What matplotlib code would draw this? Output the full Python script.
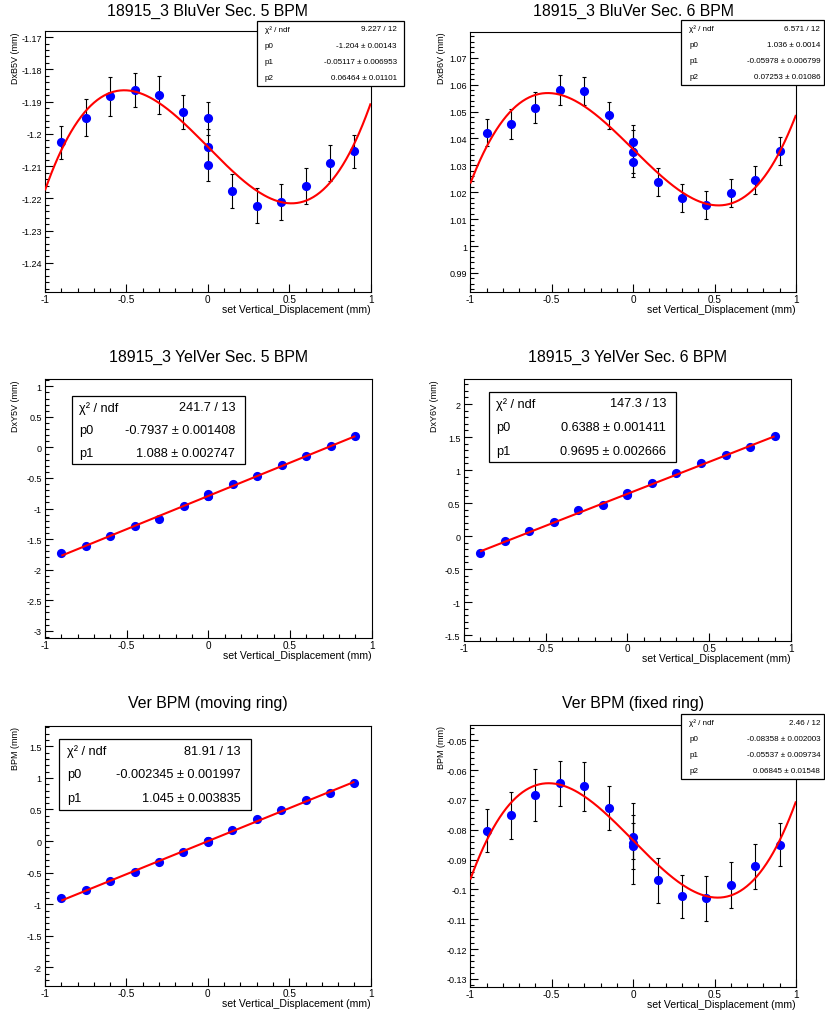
import numpy as np
import matplotlib
matplotlib.use("Agg")
import matplotlib.pyplot as plt
from matplotlib.ticker import MultipleLocator, FuncFormatter
from matplotlib.patches import Rectangle

plt.rcParams['font.family'] = ['Liberation Sans', 'DejaVu Sans']

W, H = 825, 1012

# set vertical displacement (mm); three repeated measurements at zero
x_disp = [-0.9, -0.75, -0.6, -0.45, -0.3, -0.15, 0.0, 0.0, 0.0,
          0.15, 0.3, 0.45, 0.6, 0.75, 0.9]

# Blue ring, sector 5 BPM
b5_y = [-1.2026, -1.1950, -1.1883, -1.1863, -1.1880, -1.1931, -1.1951, -1.2041, -1.2096,
        -1.2176, -1.2222, -1.2212, -1.2162, -1.2090, -1.2054]
b5_err = [0.0051, 0.0058, 0.0060, 0.0053, 0.0059, 0.0053, 0.0051, 0.0055, 0.0051,
          0.0053, 0.0053, 0.0056, 0.0056, 0.0056, 0.0051]
b5_par = [-1.204, -0.05117, 0.06464]
b5_parerr = [0.00143, 0.006953, 0.01101]
b5_chi2 = [9.227, 12]

# Blue ring, sector 6 BPM
b6_y = [1.0421, 1.0454, 1.0515, 1.0580, 1.0576, 1.0486, 1.0386, 1.0351, 1.0311,
        1.0238, 1.0179, 1.0151, 1.0196, 1.0245, 1.0354]
b6_err = [0.0050, 0.0056, 0.0058, 0.0056, 0.0053, 0.0051, 0.0064, 0.0080, 0.0055,
          0.0051, 0.0051, 0.0052, 0.0052, 0.0052, 0.0052]
b6_par = [1.036, -0.05978, 0.07253]
b6_parerr = [0.0014, 0.006799, 0.01086]
b6_chi2 = [6.571, 12]

# Yellow ring, sector 5 BPM
y5_y = [-1.7285, -1.608, -1.450, -1.292, -1.166, -0.959, -0.757, -0.790, -0.801,
        -0.604, -0.4625, -0.288, -0.135, 0.023, 0.181]
y5_err = [0.0054] * 15
y5_par = [-0.7937, 1.088]
y5_parerr = [0.001408, 0.002747]
y5_chi2 = [241.7, 13]

# Yellow ring, sector 6 BPM
y6_y = [-0.263, -0.081, 0.071, 0.217, 0.389, 0.475, 0.652, 0.635, 0.621,
        0.798, 0.960, 1.106, 1.232, 1.348, 1.510]
y6_err = [0.0054] * 15
y6_par = [0.6388, 0.9695]
y6_parerr = [0.001411, 0.002666]
y6_chi2 = [147.3, 13]

# Moving ring BPM
mov_y = [-0.908, -0.770, -0.638, -0.485, -0.327, -0.174, 0.006, -0.004, -0.010,
         0.170, 0.344, 0.497, 0.650, 0.766, 0.919]
mov_err = [0.0077] * 15
mov_par = [-0.002345, 1.045]
mov_parerr = [0.001997, 0.003835]
mov_chi2 = [81.91, 13]

# Fixed ring BPM
fix_y = [-0.0803, -0.0751, -0.0683, -0.0644, -0.0655, -0.0727, -0.0823, -0.0845, -0.0853,
         -0.0970, -0.1023, -0.1030, -0.0985, -0.0923, -0.0851]
fix_err = [0.0072, 0.0079, 0.0088, 0.0075, 0.0081, 0.0074, 0.0074, 0.0136, 0.0077,
           0.0075, 0.0072, 0.0076, 0.0077, 0.0075, 0.0072]
fix_par = [-0.08358, -0.05537, 0.06845]
fix_parerr = [0.002003, 0.009734, 0.01548]
fix_chi2 = [2.46, 12]

x_label = "set Vertical_Displacement (mm)"

panels = [
    dict(title="18915_3 BluVer Sec. 5 BPM", ylabel="DxB5V (mm)", y=b5_y, err=b5_err,
         par=b5_par, parerr=b5_parerr, chi2=b5_chi2,
         frame=(45, 32, 370.7, 293.3), ylim=(-1.2491, -1.1681), major=0.01, minor=0.002,
         box=(256.7, 21.7, 404, 86.7), boxfs=5.8, pad_l=8, pad_r=7, title_y=11),
    dict(title="18915_3 BluVer Sec. 6 BPM", ylabel="DxB6V (mm)", y=b6_y, err=b6_err,
         par=b6_par, parerr=b6_parerr, chi2=b6_chi2,
         frame=(470.3, 32.7, 796, 293.3), ylim=(0.9828, 1.0797), major=0.01, minor=0.002,
         box=(681.3, 21, 824.3, 86), boxfs=5.8, pad_l=8, pad_r=4, title_y=11),
    dict(title="18915_3 YelVer Sec. 5 BPM", ylabel="DxY5V (mm)", y=y5_y, err=y5_err,
         par=y5_par, parerr=y5_parerr, chi2=y5_chi2,
         frame=(45, 380, 371.7, 639.3), ylim=(-3.124, 1.12), major=0.5, minor=0.1,
         box=(71.7, 396.7, 245.3, 465.3), boxfs=9.2, pad_l=7.6, pad_r=10, title_y=357.3),
    dict(title="18915_3 YelVer Sec. 6 BPM", ylabel="DxY6V (mm)", y=y6_y, err=y6_err,
         par=y6_par, parerr=y6_parerr, chi2=y6_chi2,
         frame=(463.7, 380, 791, 641.7), ylim=(-1.586, 2.379), major=0.5, minor=0.1,
         box=(488.7, 392.7, 676, 463.3), boxfs=9.2, pad_l=7.6, pad_r=10, title_y=357.3),
    dict(title="Ver BPM (moving ring)", ylabel="BPM (mm)", y=mov_y, err=mov_err,
         par=mov_par, parerr=mov_parerr, chi2=mov_chi2,
         frame=(45, 726.7, 370.7, 986.7), ylim=(-2.29, 1.826), major=0.5, minor=0.1,
         box=(59.3, 740, 250.7, 810.7), boxfs=9.2, pad_l=7.6, pad_r=10, title_y=703.3),
    dict(title="Ver BPM (fixed ring)", ylabel="BPM (mm)", y=fix_y, err=fix_err,
         par=fix_par, parerr=fix_parerr, chi2=fix_chi2,
         frame=(470.3, 726, 796, 988.3), ylim=(-0.1328, -0.0449), major=0.01, minor=0.002,
         box=(681.3, 715, 824.3, 780), boxfs=5.8, pad_l=8, pad_r=4, title_y=703.3),
]


def fx(px):
    return px / W


def fy(py):
    return 1.0 - py / H


def num_label(v, pos=None):
    v = round(v, 6)
    if abs(v) < 1e-12:
        return "0"
    return f"{v:g}"


fig = plt.figure(figsize=(W / 100, H / 100), dpi=100)
fig.patch.set_facecolor("white")

for p in panels:
    x0, y0, x1, y1 = p["frame"]
    ax = fig.add_axes([fx(x0), fy(y1), (x1 - x0) / W, (y1 - y0) / H])
    ax.set_xlim(-1, 1)
    ax.set_ylim(*p["ylim"])

    xs = np.array(x_disp)
    ys = np.array(p["y"])
    ax.errorbar(xs, ys, yerr=p["err"], fmt="none", ecolor="black", elinewidth=0.8,
                capsize=1.6, capthick=0.8, zorder=2)
    ax.plot(xs, ys, "o", color="#0000ff", markersize=6.6, markeredgewidth=0, zorder=3)

    par = p["par"]
    if len(par) == 3:
        xf = np.linspace(-1, 1, 200)
        yf = par[0] + par[1] * xf + par[2] * xf ** 3
    else:
        xf = np.linspace(min(x_disp), max(x_disp), 100)
        yf = par[0] + par[1] * xf
    ax.plot(xf, yf, color="#ff0000", lw=1.5, zorder=4, solid_capstyle="butt")

    ax.xaxis.set_major_locator(MultipleLocator(0.5))
    ax.xaxis.set_minor_locator(MultipleLocator(0.1))
    ax.yaxis.set_major_locator(MultipleLocator(p["major"]))
    ax.yaxis.set_minor_locator(MultipleLocator(p["minor"]))
    ax.xaxis.set_major_formatter(FuncFormatter(num_label))
    ax.yaxis.set_major_formatter(FuncFormatter(num_label))
    ax.tick_params(which="both", direction="in", top=False, right=False,
                   width=0.8, colors="black")
    ax.tick_params(which="major", length=6.0)
    ax.tick_params(which="minor", length=3.0)
    ax.tick_params(axis="y", which="major", labelsize=6.5, pad=2.4)
    ax.tick_params(axis="x", which="major", labelsize=7.2, pad=1.4)
    for s in ax.spines.values():
        s.set_linewidth(0.8)
        s.set_color("black")

    # title, axis titles
    fig.text(fx((x0 + x1) / 2), fy(p["title_y"]), p["title"], ha="center", va="center",
             fontsize=11.4)
    fig.text(fx(x1), fy(y1 + 17), x_label, ha="right", va="center", fontsize=7.6)
    fig.text(fx(x0 - 29), fy(y0), p["ylabel"], ha="center", va="top", rotation=90,
             fontsize=6.5)

    # fit statistics box
    bx0, by0, bx1, by1 = p["box"]
    fig.add_artist(Rectangle((fx(bx0), fy(by1)), (bx1 - bx0) / W, (by1 - by0) / H,
                             transform=fig.transFigure, facecolor="white",
                             edgecolor="black", lw=0.9, zorder=10))
    names = ["χ² / ndf"] + [f"p{i}" for i in range(len(par))]
    values = [f"{p['chi2'][0]:g} / {p['chi2'][1]}"] + \
             [f"{v:g} ± {e:g}" for v, e in zip(par, p["parerr"])]
    nrow = len(names)
    rh = (by1 - by0) / nrow
    for i, (nm, val) in enumerate(zip(names, values)):
        yc = by0 + (i + 0.5) * rh
        fig.text(fx(bx0 + p["pad_l"]), fy(yc), nm, ha="left", va="center",
                 fontsize=p["boxfs"], zorder=11)
        fig.text(fx(bx1 - p["pad_r"]), fy(yc), val, ha="right", va="center",
                 fontsize=p["boxfs"], zorder=11)

fig.savefig("out.png", dpi=100, facecolor="white")
